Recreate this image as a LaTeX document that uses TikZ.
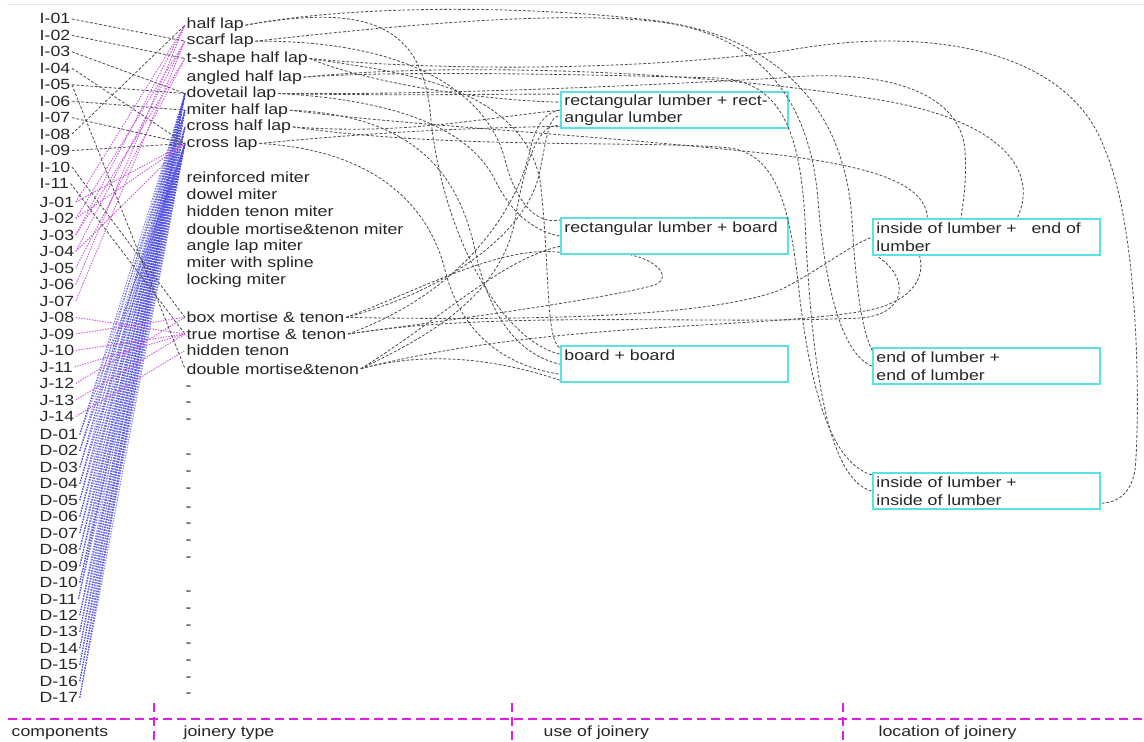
\documentclass[tikz,border=0pt]{standalone}
\usepackage{fontspec}
\usepackage{xcolor}
\newfontfamily\labfont[FakeStretch=1.2]{Liberation Sans}
\newcommand\labsize{\labfont\fontsize{10.5}{12.4}\selectfont}
\definecolor{lumbercyan}{RGB}{90,225,230}
\definecolor{linkgray}{RGB}{80,80,80}
\definecolor{jpink}{RGB}{205,95,225}
\definecolor{dblue}{RGB}{70,70,225}
\definecolor{axismag}{RGB}{225,30,225}

\begin{document}
\begin{tikzpicture}[x=0.025cm, y=-0.025cm,
  every node/.style={font=\labsize, text=black!85, inner sep=1pt},
  lbl/.style={anchor=base west},
  usebox/.style={draw=lumbercyan, line width=1.4pt, anchor=north west,
    minimum width=5.675cm, minimum height=0.91cm, text width=5.5cm,
    inner xsep=0.06cm, inner ysep=0.05cm, align=left},
  ilink/.style={linkgray, line width=0.6pt, dash pattern=on 2pt off 1.3pt},
  jlinkst/.style={jpink, line width=0.7pt, dash pattern=on 1pt off 0.9pt},
  dlinkst/.style={dblue, line width=0.7pt, dash pattern=on 1pt off 0.9pt, opacity=0.7},
  axisline/.style={axismag, line width=1.8pt, dash pattern=on 6.5pt off 3.5pt}]
\useasboundingbox (0,0) rectangle (1144,742);
\draw[black!10, line width=0.6pt] (7,4) -- (1144,4);

\foreach \n in {1,...,11}
  \node[lbl] (I\n) at (38,{24+16.45*(\n-1)}) {I-\ifnum\n<10 0\fi\n};
\foreach \n in {1,...,14}
  \node[lbl] (J\n) at (38,{207+16.5*(\n-1)}) {J-\ifnum\n<10 0\fi\n};
\foreach \n in {1,...,17}
  \node[lbl] (D\n) at (38,{439.5+16.45*(\n-1)}) {D-\ifnum\n<10 0\fi\n};

\node[lbl] (hl) at (185,29) {half lap};
\node[lbl] (sl) at (185,45) {scarf lap};
\node[lbl] (tsh) at (185,62.3) {t-shape half lap};
\node[lbl] (ahl) at (185,81) {angled half lap};
\node[lbl] (dvl) at (185,97.3) {dovetail lap};
\node[lbl] (mhl) at (185,114) {miter half lap};
\node[lbl] (chl) at (185,130.7) {cross half lap};
\node[lbl] (crl) at (185,147.3) {cross lap};
\node[lbl] (rm) at (185,182.7) {reinforced miter};
\node[lbl] (dwm) at (185,199.3) {dowel miter};
\node[lbl] (htm) at (185,216) {hidden tenon miter};
\node[lbl] (dmtm) at (185,234.3) {double mortise\&tenon miter};
\node[lbl] (alm) at (185,250) {angle lap miter};
\node[lbl] (mws) at (185,267.3) {miter with spline};
\node[lbl] (lkm) at (185,284) {locking miter};
\node[lbl] (bmt) at (185,322.7) {box mortise \& tenon};
\node[lbl] (tmt) at (185,339.3) {true mortise \& tenon};
\node[lbl] (htn) at (185,355.7) {hidden tenon};
\node[lbl] (dmt) at (185,374) {double mortise\&tenon};
\foreach \y [count=\k] in {390.5,406.5,423.5,458.5,475.5,492.5,511.5,527.5,544.5,
    561.5,595.5,612.5,629.5,647.5,664.5,681.5,697.5}
  \node[lbl] (gap\k) at (184,\y) {-};

\node[usebox] (rr) at (560,91) {rectangular lumber + rect-\\angular lumber};
\node[usebox] (rb) at (560,217) {rectangular lumber + board\\~};
\node[usebox] (bb) at (560,345) {board + board\\~};
\node[usebox] (ie) at (872,218) {inside of lumber +\ \ \ end of\\lumber};
\node[usebox] (ee) at (872,347) {end of lumber +\\end of lumber};
\node[usebox] (ii) at (872,472) {inside of lumber +\\inside of lumber};

\foreach \n in {1,...,17} {
  \draw[dlinkst] (D\n.east) -- (dvl.west);
  \draw[dlinkst] (D\n.east) -- (crl.west);
}
\foreach \n in {1,3,...,17}
  \draw[dlinkst] (D\n.east) -- (mhl.west);
\foreach \n in {2,4,...,16}
  \draw[dlinkst] (D\n.east) -- (chl.west);

\foreach \a/\b in {J1/hl, J1/crl, J2/sl, J2/crl, J3/hl, J3/tsh, J4/sl, J4/crl,
    J5/tsh, J6/hl, J7/sl, J8/tmt, J9/bmt, J10/tmt, J11/tmt, J12/bmt, J13/tmt, J14/htn}
  \draw[jlinkst] (\a.east) -- (\b.west);

\foreach \a/\b in {I1/sl, I2/tsh, I3/dvl, I4/crl, I5/dvl, I5/dmt, I6/mhl, I7/crl,
    I8/hl, I9/crl, I10/bmt, I11/tmt}
  \draw[ilink] (\a.east) -- (\b.west);

\draw[ilink] (hl.east) .. controls (350,5) and (520,5) .. (650,20) .. controls (780,35) and (845,110) .. (852,220) .. controls (856,290) and (862,330) .. (ee.172);
\draw[ilink] (sl.east) .. controls (400,25) and (560,10) .. (660,22) .. controls (760,35) and (810,100) .. (818,200) .. controls (826,300) and (845,355) .. (ee.west);
\draw[ilink] (chl.east) .. controls (450,150) and (650,140) .. (730,148) .. controls (775,155) and (790,200) .. (800,300) .. controls (815,420) and (840,465) .. (ii.172);
\draw[ilink] (ahl.east) .. controls (400,70) and (600,75) .. (720,78) .. controls (780,82) and (800,130) .. (805,220) .. controls (812,380) and (830,480) .. (ii.west);
\draw[ilink] (tsh.east) .. controls (450,72) and (650,70) .. (790,50) .. controls (930,25) and (1070,50) .. (1105,150) .. controls (1140,230) and (1140,420) .. (1135,470) .. controls (1130,500) and (1110,503) .. (ii.-6);
\draw[ilink] (ahl.east) .. controls (450,62) and (700,70) .. (880,100) .. controls (1000,120) and (1040,170) .. (ie.32);
\draw[ilink] (dvl.east) .. controls (450,95) and (650,85) .. (780,78) .. controls (880,68) and (960,90) .. (965,150) .. controls (967,190) and (962,205) .. (ie.143);
\draw[ilink] (mhl.east) .. controls (400,125) and (600,135) .. (780,155) .. controls (880,168) and (925,185) .. (ie.162);

\draw[ilink] (tsh.east) .. controls (360,80) and (470,100) .. (rr.176);
\draw[ilink] (dvl.east) .. controls (400,96) and (480,94) .. (rr.172);
\draw[ilink] (chl.east) .. controls (400,135) and (470,120) .. (rr.west);
\draw[ilink] (crl.east) .. controls (400,130) and (480,128) .. (rr.188);
\draw[ilink] (bmt.east) .. controls (450,290) and (530,230) .. (540,170) .. controls (548,130) and (550,115) .. (rr.183);
\draw[ilink] (tmt.east) .. controls (470,290) and (520,200) .. (530,150) .. controls (537,120) and (548,112) .. (rr.west);
\draw[ilink] (dmt.east) .. controls (420,340) and (500,300) .. (515,220) .. controls (525,160) and (540,120) .. (rr.188);

\draw[ilink] (sl.east) .. controls (420,40) and (490,100) .. (505,160) .. controls (515,200) and (535,225) .. (rb.172);
\draw[ilink] (dvl.east) .. controls (400,100) and (470,130) .. (495,180) .. controls (510,210) and (530,230) .. (rb.west);
\draw[ilink] (bmt.east) .. controls (420,290) and (500,245) .. (rb.188);
\draw[ilink] (dmt.east) .. controls (440,320) and (500,260) .. (rb.185);
\draw[ilink] (tmt.east) .. controls (450,320) and (600,300) .. (655,285) .. controls (675,275) and (650,258) .. (rb.204);

\draw[ilink] (hl.east) .. controls (360,5) and (420,20) .. (430,110) .. controls (440,230) and (500,340) .. (bb.175);
\draw[ilink] (mhl.east) .. controls (420,115) and (460,180) .. (475,250) .. controls (490,320) and (520,355) .. (bb.west);
\draw[ilink] (crl.east) .. controls (380,150) and (430,210) .. (445,270) .. controls (460,330) and (500,365) .. (bb.185);
\draw[ilink] (tsh.east) .. controls (380,70) and (520,80) .. (540,180) .. controls (550,260) and (545,340) .. (bb.172);
\draw[ilink] (dmt.east) .. controls (430,350) and (500,360) .. (bb.188);

\draw[ilink] (bmt.east) .. controls (500,320) and (700,320) .. (780,290) .. controls (820,270) and (850,245) .. (ie.west);
\draw[ilink] (tmt.east) .. controls (500,310) and (700,325) .. (860,318) .. controls (905,315) and (912,280) .. (ie.190);
\draw[ilink] (dmt.east) .. controls (550,320) and (760,330) .. (870,310) .. controls (915,300) and (925,275) .. (ie.196);

\draw[axisline] (8,719) -- (1144,719);
\foreach \x in {154,512,843}
  \draw[axisline] (\x,703) -- (\x,742);
\node[lbl] (compax) at (10,736) {components};
\node[lbl] (typeax) at (182,736) {joinery type};
\node[lbl] (useax) at (542,736) {use of joinery};
\node[lbl] (locax) at (877,736) {location of joinery};
\end{tikzpicture}
\end{document}
